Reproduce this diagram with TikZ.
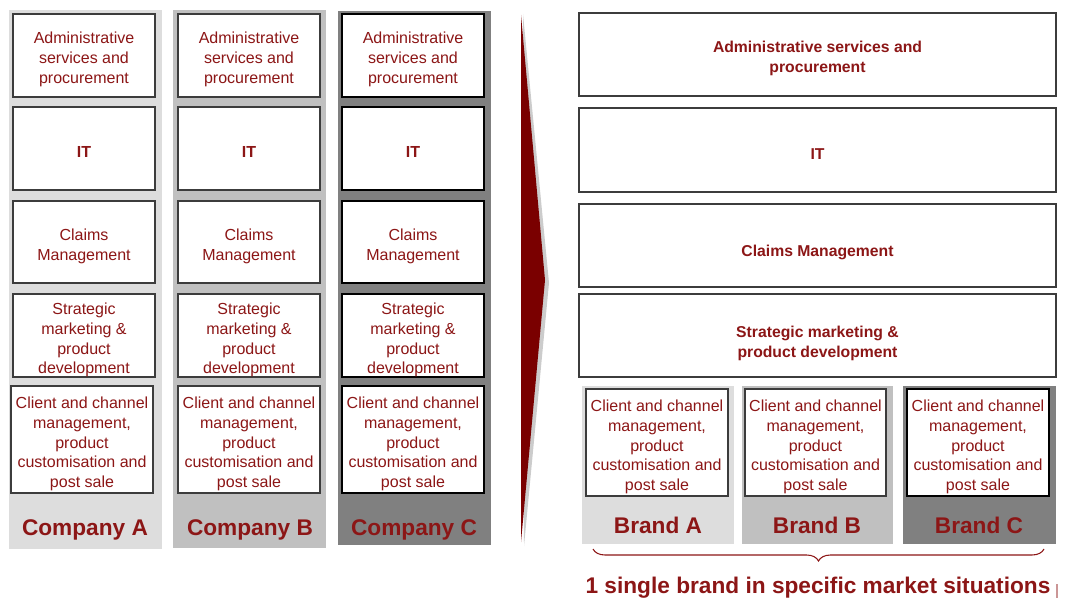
\documentclass[tikz,border=0pt]{standalone}
\usepackage{fontspec}
\setmainfont{Liberation Sans}
\usetikzlibrary{decorations.pathreplacing}

\definecolor{txtred}{RGB}{140,22,22}
\definecolor{arrred}{RGB}{122,0,0}
\definecolor{shadeA}{RGB}{221,221,221}
\definecolor{shadeB}{RGB}{192,192,192}
\definecolor{shadeC}{RGB}{128,128,128}
\definecolor{frame}{RGB}{60,60,60}

\tikzset{
  colbg/.style={fill=#1, draw=none, inner sep=0pt},
  cell/.style={draw=frame, line width=1pt, fill=white, inner sep=0pt},
  cellC/.style={cell, draw=black, line width=1.3pt},
  celltext/.style={inner sep=0pt, align=center, text=txtred,
    font=\fontsize{12}{14.8}\selectfont},
  widetext/.style={inner sep=0pt, align=center, text=txtred,
    font=\fontsize{11.8}{15}\selectfont\bfseries},
  biglabel/.style={text=txtred, font=\fontsize{17}{20}\selectfont\bfseries,
    inner sep=0pt, anchor=base},
}

% \mkbox{style}{name}{x1}{y1}{x2}{y2}: a node filling the given rectangle
\newcommand\mkbox[6]{%
  \node[#1, minimum width={(#5-#3)*0.75pt}, minimum height={(#6-#4)*0.75pt}]
    (#2) at ({(#3+#5)/2},{(#4+#6)/2}) {};}
% \mkcell{box style}{text style}{name}{x1}{y1}{x2}{y2}{drop}{text}
\newcommand\mkcell[9]{%
  \mkbox{#1}{#3}{#4}{#5}{#6}{#7}%
  \node[#2] (#3-txt) at ([yshift={-(#8)*0.75pt}]#3.center) {#9};}

\newcommand\adm{Administrative\\services and\\procurement}
\newcommand\clm{Claims\\Management}
\newcommand\strat{Strategic\\marketing \&\\product\\development}
\newcommand\cli{Client and channel\\management,\\product\\customisation and\\post sale}

\begin{document}
\begin{tikzpicture}[x=0.75pt, y=-0.75pt]
\useasboundingbox (0,0) rectangle (1070,599);

% ---------- three separate companies ----------
\mkbox{colbg=shadeA}{colA}{9}{10}{162}{549}
\mkbox{colbg=shadeB}{colB}{173}{10}{326}{548}
\mkbox{colbg=shadeC}{colC}{338}{11}{491}{545}

% Company A
\mkcell{cell}{celltext}{aAdm}{13}{14}{155}{97}{4}{\adm}
\mkcell{cell}{celltext}{aIT}{13}{107}{155}{190}{3}{\bfseries IT}
\mkcell{cell}{celltext}{aClm}{13}{201}{155}{283}{4.5}{\clm}
\mkcell{cell}{celltext}{aStr}{13}{294}{155}{377}{4.5}{\strat}
\mkcell{cell}{celltext}{aCli}{11}{386}{153}{493}{4.5}{\cli}
\node[biglabel] (labA) at (85,535) {Company A};

% Company B
\mkcell{cell}{celltext}{bAdm}{178}{14}{320}{97}{4}{\adm}
\mkcell{cell}{celltext}{bIT}{178}{107}{320}{190}{3}{\bfseries IT}
\mkcell{cell}{celltext}{bClm}{178}{201}{320}{283}{4.5}{\clm}
\mkcell{cell}{celltext}{bStr}{178}{294}{320}{377}{4.5}{\strat}
\mkcell{cell}{celltext}{bCli}{178}{386}{320}{493}{4.5}{\cli}
\node[biglabel] (labB) at (250,535) {Company B};

% Company C
\mkcell{cellC}{celltext}{cAdm}{342}{14}{484}{97}{4}{\adm}
\mkcell{cellC}{celltext}{cIT}{342}{107}{484}{190}{3}{\bfseries IT}
\mkcell{cellC}{celltext}{cClm}{342}{201}{484}{283}{4.5}{\clm}
\mkcell{cellC}{celltext}{cStr}{342}{294}{484}{377}{4.5}{\strat}
\mkcell{cellC}{celltext}{cCli}{342}{386}{484}{493}{4.5}{\cli}
\node[biglabel] (labC) at (414,535) {Company C};

% ---------- transition wedge ----------
\fill[black!20] (523,14) -- (549,283) -- (524,546) -- cycle;
\fill[arrred] (521,15) -- (545,280) -- (521,542) -- cycle;

% ---------- merged organisation ----------
\mkcell{cell}{widetext}{mAdm}{579}{13}{1056}{96}{3.5}{Administrative services and\\procurement}
\mkcell{cell}{widetext}{mIT}{579}{108}{1056}{192}{4}{IT}
\mkcell{cell}{widetext}{mClm}{579}{204}{1056}{287}{7}{Claims Management}
\mkcell{cell}{widetext}{mStr}{579}{294}{1056}{377}{7.5}{Strategic marketing \&\\product development}

\mkbox{colbg=shadeA}{brA}{582}{386}{734}{544}
\mkbox{colbg=shadeB}{brB}{742}{386}{893}{544}
\mkbox{colbg=shadeC}{brC}{903}{386}{1056}{544}

\mkcell{cell}{celltext}{brAcli}{586}{389}{728}{496}{4.5}{\cli}
\mkcell{cell}{celltext}{brBcli}{745}{389}{886}{496}{4.5}{\cli}
\mkcell{cell,draw=black}{celltext}{brCcli}{907}{389}{1049}{496}{4.5}{\cli}

\node[biglabel] (labBA) at (658,533) {Brand A};
\node[biglabel] (labBB) at (817,533) {Brand B};
\node[biglabel] (labBC) at (979,533) {Brand C};

% brace and caption
\coordinate (braceL) at (593,549);
\coordinate (braceR) at (1044,549);
\draw[txtred, line width=0.8pt, decorate,
      decoration={brace, mirror, amplitude=9pt}] (braceL) -- (braceR);
\node[biglabel] (caption) at (818,593) {1 single brand in specific market situations};
\draw[txtred!45, line width=0.8pt] (1057,584) -- (1057,598);

\end{tikzpicture}
\end{document}
